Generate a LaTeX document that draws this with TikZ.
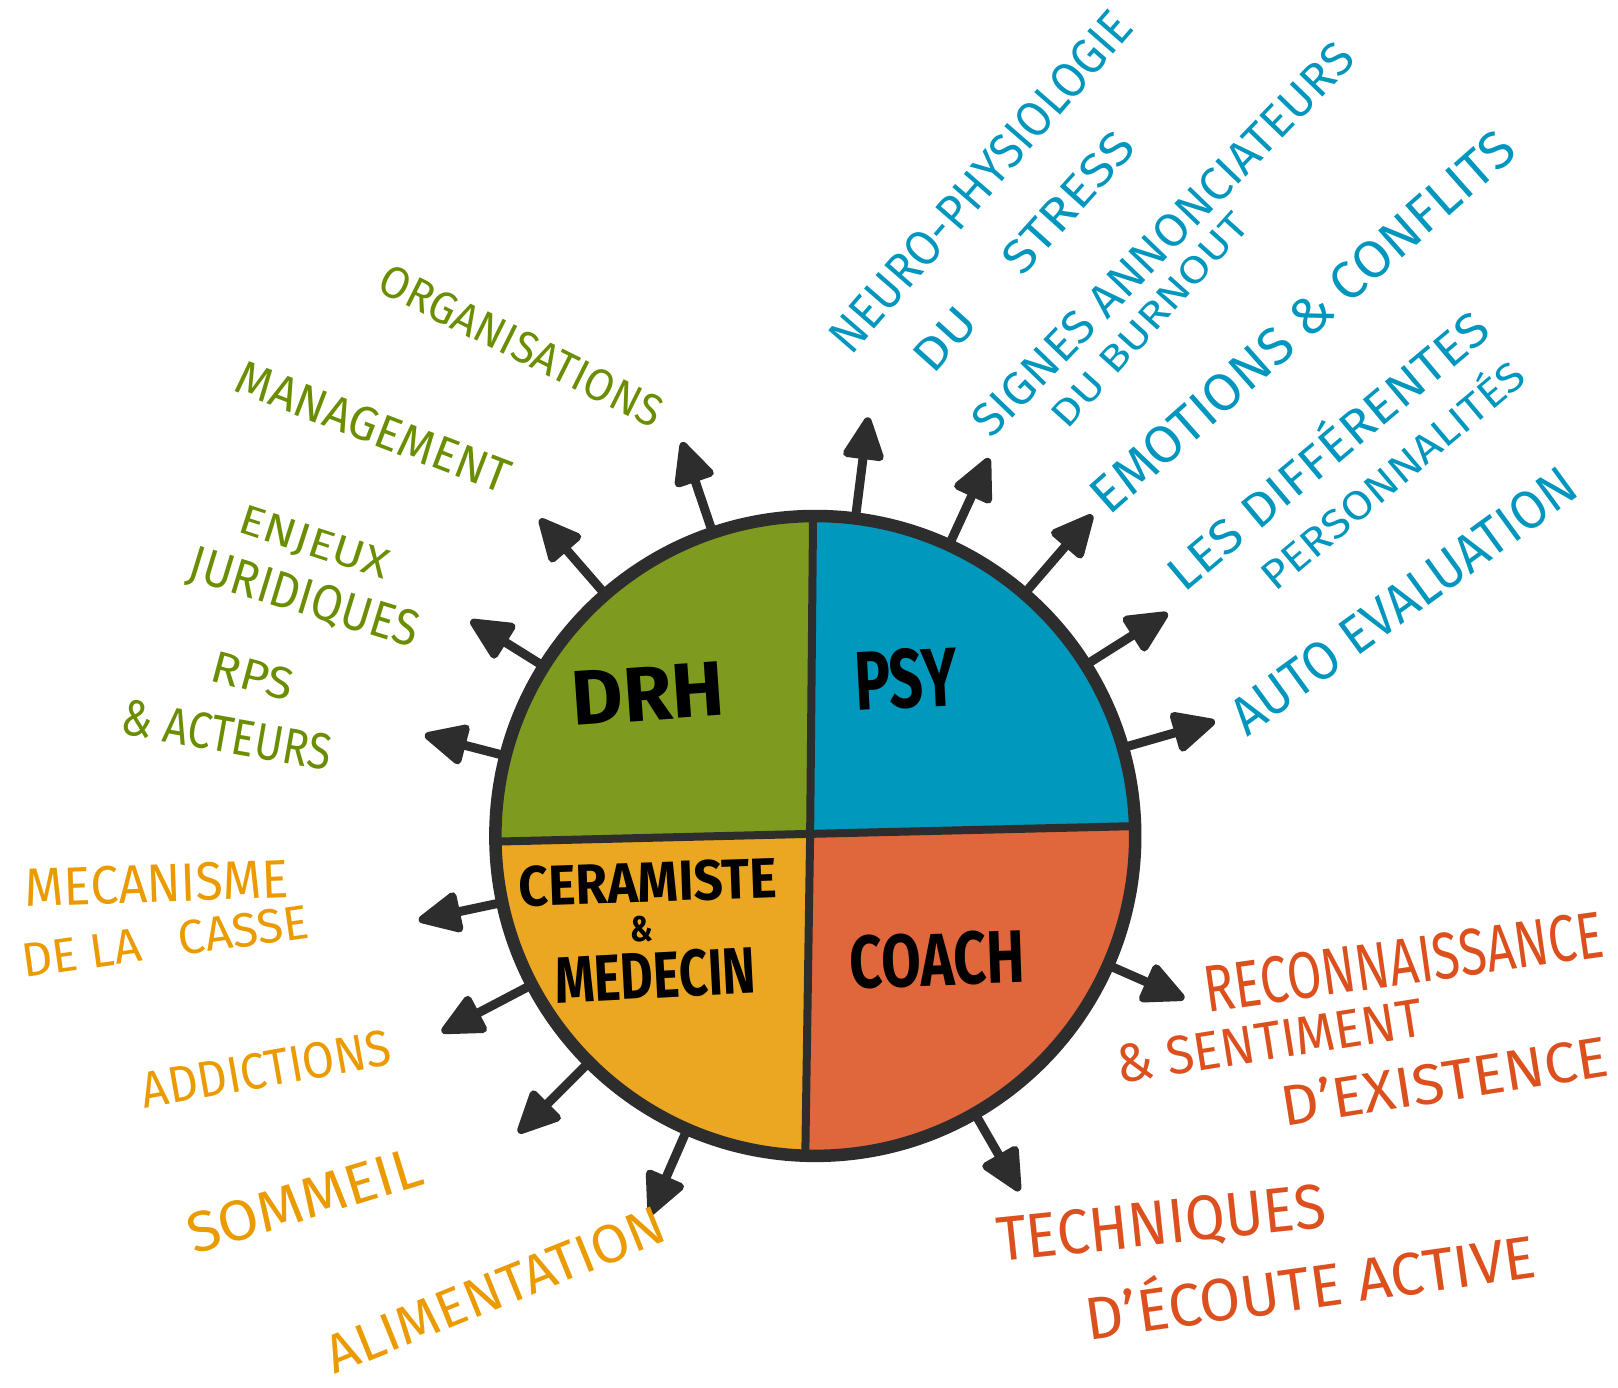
\documentclass[tikz,border=0pt]{standalone}
\usepackage{fontspec}
\setmainfont{Fira Sans}
\usepackage{graphicx}
\usetikzlibrary{calc}
\definecolor{gfill}{RGB}{126,155,32}
\definecolor{bfill}{RGB}{0,152,188}
\definecolor{ofill}{RGB}{224,102,60}
\definecolor{yfill}{RGB}{236,167,34}
\definecolor{tgreen}{RGB}{107,142,0}
\definecolor{tblue}{RGB}{0,150,190}
\definecolor{tyellow}{RGB}{235,155,0}
\definecolor{tred}{RGB}{220,80,30}
\definecolor{dark}{RGB}{45,45,45}
\newcommand\fitt[3]{\resizebox{\dimexpr #1pt*1032/1000\relax}{\dimexpr #2pt*1032/1000\relax}{\smash{#3}\vphantom{E}}}
\begin{document}
\begin{tikzpicture}[x=1.032pt,y=-1.032pt,
  lbl/.style={inner sep=0pt,anchor=center},
  spikeline/.style={line width=9pt,draw=dark,line cap=round},
  spikehead/.style={fill=dark,draw=dark,line width=8pt,line join=round},
  divider/.style={line width=8pt,draw=dark,line cap=round},
  quadlbl/.style={lbl,text=black,font=\bfseries}]
\fill[white] (0,0) rectangle (1567.8,1344);
\useasboundingbox (0,0) rectangle (1567.8,1344);
\coordinate (C) at (790,810);
\coordinate (T) at (788,480);
\coordinate (B) at (780,1140);
\coordinate (L) at (460,816);
\coordinate (R) at (1120,800);
\coordinate (M) at (785,808);
% spikes
\foreach \i/\a/\r in {1/108.7/404,2/82.8/410,3/65.3/404,4/49.2/412,5/32.3/405,6/16/404,
  7/131/408,8/148/395,9/165.5/392,10/192/394,11/207.7/410,12/225/408,13/246.4/402,
  14/336.2/392,15/299.9/398}{
  \coordinate (b\i) at ($(C)+(-\a:310)$);
  \coordinate (h\i) at ($(C)+(-\a:\r-30)$);
  \coordinate (t\i) at ($(C)+(-\a:\r-5)$);
  \coordinate (l\i) at ($(C)+(-\a:\r-38)+(-\a+90:16)$);
  \coordinate (r\i) at ($(C)+(-\a:\r-38)+(-\a-90:16)$);
  \draw[spikeline] (b\i) -- (h\i);
  \filldraw[spikehead] (t\i) -- (l\i) -- (r\i) -- cycle;
}
% quadrants
\begin{scope}
\clip (C) circle[radius=310];
\fill[gfill] (L) -- (M) -- (T) -- (460,480) -- cycle;
\fill[bfill] (T) -- (M) -- (R) -- (1120,480) -- cycle;
\fill[ofill] (M) -- (R) -- (1120,1140) -- (B) -- cycle;
\fill[yfill] (L) -- (M) -- (B) -- (460,1140) -- cycle;
\draw[divider] (T) -- (M) -- (B);
\draw[divider] (L) -- (M) -- (R);
\end{scope}
\draw[line width=12.5pt,draw=dark] (C) circle[radius=310];
% quadrant labels
\node[quadlbl,rotate=4] (drh) at (628,672) {\fitt{148}{52}{DRH}};
\node[quadlbl,rotate=3] (psy) at (878,658) {\fitt{100}{56}{PSY}};
\node[quadlbl,rotate=2] (cer) at (628,855) {\fitt{250}{38}{CERAMISTE}};
\node[quadlbl] (amp) at (622,900) {\fitt{22}{24}{\&}};
\node[quadlbl,rotate=3] (med) at (635,945) {\fitt{195}{44}{MEDECIN}};
\node[quadlbl,rotate=2] (coach) at (908,930) {\fitt{170}{50}{COACH}};
% blue
\begin{scope}[every node/.style={lbl,text=tblue}]
\node[rotate=49] (neuro) at (950,176) {\fitt{420}{33}{NEURO-PHYSIOLOGIE}};
\node[rotate=48] (stress) at (992,244) {\fitt{295}{31}{DU\hspace{1.2em}STRESS}};
\node[rotate=46] (signes) at (1127,232) {\fitt{510}{31}{SIGNES ANNONCIATEURS}};
\node[rotate=48] (burn) at (1114,310) {\fitt{265}{25}{DU BURNOUT}};
\node[rotate=41.5] (emo) at (1262,312) {\fitt{530}{35}{EMOTIONS \& CONFLITS}};
\node[rotate=40] (diff) at (1287,437) {\fitt{390}{32}{LES DIFFÉRENTES}};
\node[rotate=40] (perso) at (1350,461) {\fitt{320}{27}{PERSONNALITÉS}};
\node[rotate=36] (auto) at (1360,582) {\fitt{400}{36}{AUTO EVALUATION}};
\end{scope}
% green
\begin{scope}[every node/.style={lbl,text=tgreen}]
\node[rotate=-26.5] (orga) at (505,335) {\fitt{300}{30}{ORGANISATIONS}};
\node[rotate=-21] (mana) at (362,414) {\fitt{280}{32}{MANAGEMENT}};
\node[rotate=-18] (enjeux) at (305,525) {\fitt{150}{28}{ENJEUX}};
\node[rotate=-17] (juri) at (295,578) {\fitt{230}{34}{JURIDIQUES}};
\node[rotate=-15] (rps) at (245,655) {\fitt{80}{30}{RPS}};
\node[rotate=-10] (acteurs) at (220,712) {\fitt{205}{34}{\& ACTEURS}};
\end{scope}
% yellow
\begin{scope}[every node/.style={lbl,text=tyellow}]
\node[rotate=2] (meca) at (152,856) {\fitt{255}{36}{MECANISME}};
\node[rotate=8] (casse) at (160,912) {\fitt{280}{32}{DE LA\hspace{0.8em}CASSE}};
\node[rotate=10] (addi) at (258,1036) {\fitt{245}{34}{ADDICTIONS}};
\node[rotate=17] (somm) at (295,1163) {\fitt{235}{38}{SOMMEIL}};
\node[rotate=22] (alim) at (480,1250) {\fitt{350}{36}{ALIMENTATION}};
\end{scope}
% red
\begin{scope}[every node/.style={lbl,text=tred}]
\node[rotate=8] (reco) at (1360,932) {\fitt{390}{44}{RECONNAISSANCE}};
\node[rotate=9] (senti) at (1230,1009) {\fitt{300}{36}{\& SENTIMENT}};
\node[rotate=9] (exist) at (1400,1048) {\fitt{320}{38}{D'EXISTENCE}};
\node[rotate=6] (tech) at (1125,1185) {\fitt{320}{42}{TECHNIQUES}};
\node[rotate=8] (ecoute) at (1270,1248) {\fitt{440}{40}{D'ÉCOUTE ACTIVE}};
\end{scope}
\end{tikzpicture}
\end{document}
